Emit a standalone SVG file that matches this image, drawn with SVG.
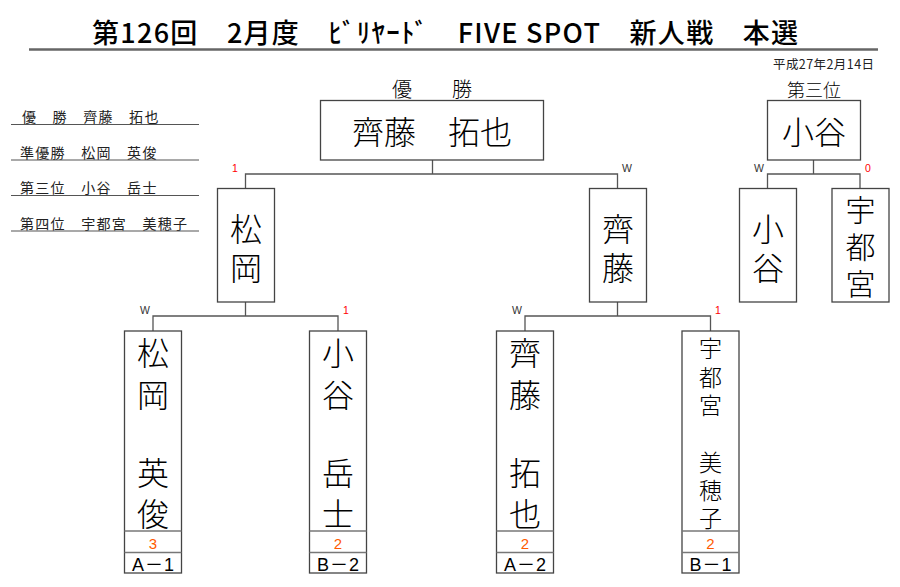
<svg xmlns="http://www.w3.org/2000/svg" width="900" height="587" viewBox="0 0 900 587">
<style>
.bg{fill:#fff}
.box{fill:#fff;stroke:#444;stroke-width:1.3}
.sep{stroke:#777;stroke-width:1.3}
.con{fill:none;stroke:#555;stroke-width:1.3}
.rule{stroke:#555;stroke-width:1.2}
.nm{font-family:"Noto Sans CJK JP","Noto Sans CJK SC",sans-serif;font-weight:300;fill:#000;text-anchor:middle}
.lst{font-family:"Noto Sans CJK JP",sans-serif;font-size:14px;fill:#222;letter-spacing:1.3px}
.sm{font-family:"Liberation Sans","Noto Sans CJK JP",sans-serif;font-size:10.5px;text-anchor:middle}
.w{fill:#333}
.r{fill:#f00}
.sc{font-family:"Liberation Sans",sans-serif;font-size:15px;fill:#ff5a00;text-anchor:middle}
.lb{font-family:"Liberation Sans","Noto Sans CJK JP",sans-serif;font-size:18px;fill:#000;text-anchor:middle}
</style>
<rect class="bg" x="0" y="0" width="900" height="587"/>
<g id="title">
<text x="445" y="43" font-family="'Noto Sans CJK JP',sans-serif" font-size="27" font-weight="500" textLength="706" lengthAdjust="spacing" text-anchor="middle" fill="#000">第126回　2月度　ﾋﾞﾘﾔｰﾄﾞ　FIVE SPOT　新人戦　本選</text>
<line x1="29" y1="49.5" x2="878" y2="49.5" stroke="#666" stroke-width="2.5"/>
<text x="874" y="69" font-family="'Noto Sans CJK JP',sans-serif" font-size="12.5" text-anchor="end" fill="#222" textLength="101" lengthAdjust="spacing">平成27年2月14日</text>
</g>
<g id="results-list">
<text class="lst" x="22" y="122">優　勝　齊藤　拓也</text>
<line class="rule" x1="11" y1="124.5" x2="199" y2="124.5"/>
<text class="lst" x="20" y="157.5">準優勝　松岡　英俊</text>
<line class="rule" x1="11" y1="160" x2="199" y2="160"/>
<text class="lst" x="20" y="193">第三位　小谷　岳士</text>
<line class="rule" x1="11" y1="195.5" x2="199" y2="195.5"/>
<text class="lst" x="20" y="228.5">第四位　宇都宮　美穂子</text>
<line class="rule" x1="11" y1="231" x2="199" y2="231"/>
</g>
<g id="connectors">
<path class="con" d="M432.5 160V174M245.5 188V174H617.5V188"/>
<path class="con" d="M245.5 302V316M153 331V316H338V331"/>
<path class="con" d="M617.5 302V316M525 331V316H710.5V331"/>
<path class="con" d="M813.5 160V174M767.5 188V174H860V188"/>
</g>
<g id="marks">
<text class="sm r" x="235" y="172">1</text>
<text class="sm w" x="627" y="172">W</text>
<text class="sm w" x="759" y="172">W</text>
<text class="sm r" x="868" y="172">0</text>
<text class="sm w" x="145" y="314">W</text>
<text class="sm r" x="346" y="314">1</text>
<text class="sm w" x="517" y="314">W</text>
<text class="sm r" x="718" y="314">1</text>
</g>
<g id="champion">
<text x="432" y="97" font-family="'Noto Sans CJK JP',sans-serif" font-weight="300" font-size="20" text-anchor="middle">優　　勝</text>
<rect class="box" x="320.5" y="100.5" width="223" height="59.5"/>
<text class="nm" x="432" y="144" font-size="32">齊藤　拓也</text>
</g>
<g id="third-place">
<text x="814" y="97" font-family="'Noto Sans CJK JP',sans-serif" font-weight="300" font-size="18" text-anchor="middle">第三位</text>
<rect class="box" x="767.5" y="100.5" width="93" height="59.5"/>
<text class="nm" x="814" y="144" font-size="32">小谷</text>
</g>
<g id="semi-matsuoka">
<rect class="box" x="217.5" y="188.5" width="57" height="113.5"/>
<text class="nm" font-size="32"><tspan x="246" y="241">松</tspan><tspan x="246" y="280">岡</tspan></text>
</g>
<g id="semi-saito">
<rect class="box" x="589.5" y="188.5" width="57" height="113.5"/>
<text class="nm" font-size="32"><tspan x="618" y="241">齊</tspan><tspan x="618" y="280">藤</tspan></text>
</g>
<g id="third-kotani">
<rect class="box" x="739.5" y="188.5" width="57" height="113.5"/>
<text class="nm" font-size="32"><tspan x="768" y="241">小</tspan><tspan x="768" y="280">谷</tspan></text>
</g>
<g id="third-utsunomiya">
<rect class="box" x="832" y="188.5" width="57" height="113.5"/>
<text class="nm" font-size="30"><tspan x="860.5" y="221">宇</tspan><tspan x="860.5" y="258">都</tspan><tspan x="860.5" y="295">宮</tspan></text>
</g>
<g id="a1-matsuoka">
<rect class="box" x="124.5" y="331" width="57" height="242"/>
<line class="sep" x1="124.5" y1="531" x2="181.5" y2="531"/>
<line class="sep" x1="124.5" y1="552.5" x2="181.5" y2="552.5"/>
<text class="nm" font-size="32"><tspan x="153" y="365">松</tspan><tspan x="153" y="407">岡</tspan><tspan x="153" y="485">英</tspan><tspan x="153" y="526">俊</tspan></text>
<text class="sc" x="153" y="549">3</text>
<text class="lb" x="153" y="571" textLength="42" lengthAdjust="spacing">A－1</text>
</g>
<g id="b2-kotani">
<rect class="box" x="309.5" y="331" width="57" height="242"/>
<line class="sep" x1="309.5" y1="531" x2="366.5" y2="531"/>
<line class="sep" x1="309.5" y1="552.5" x2="366.5" y2="552.5"/>
<text class="nm" font-size="32"><tspan x="338" y="365">小</tspan><tspan x="338" y="407">谷</tspan><tspan x="338" y="485">岳</tspan><tspan x="338" y="526">士</tspan></text>
<text class="sc" x="338" y="549">2</text>
<text class="lb" x="338" y="571" textLength="42" lengthAdjust="spacing">B－2</text>
</g>
<g id="a2-saito">
<rect class="box" x="496.5" y="331" width="57" height="242"/>
<line class="sep" x1="496.5" y1="531" x2="553.5" y2="531"/>
<line class="sep" x1="496.5" y1="552.5" x2="553.5" y2="552.5"/>
<text class="nm" font-size="32"><tspan x="525" y="365">齊</tspan><tspan x="525" y="407">藤</tspan><tspan x="525" y="485">拓</tspan><tspan x="525" y="526">也</tspan></text>
<text class="sc" x="525" y="549">2</text>
<text class="lb" x="525" y="571" textLength="42" lengthAdjust="spacing">A－2</text>
</g>
<g id="b1-utsunomiya">
<rect class="box" x="682" y="331" width="57" height="242"/>
<line class="sep" x1="682" y1="531" x2="739" y2="531"/>
<line class="sep" x1="682" y1="552.5" x2="739" y2="552.5"/>
<text class="nm" font-size="23"><tspan x="710.5" y="357">宇</tspan><tspan x="710.5" y="386">都</tspan><tspan x="710.5" y="414">宮</tspan><tspan x="710.5" y="471">美</tspan><tspan x="710.5" y="499">穂</tspan><tspan x="710.5" y="527">子</tspan></text>
<text class="sc" x="710.5" y="549">2</text>
<text class="lb" x="710.5" y="571" textLength="42" lengthAdjust="spacing">B－1</text>
</g>
</svg>
